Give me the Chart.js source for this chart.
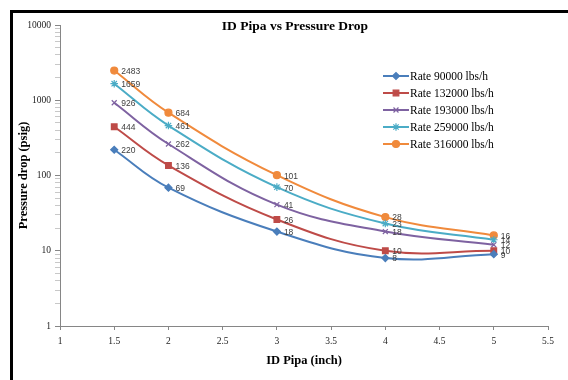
<!DOCTYPE html>
<html>
<head>
<meta charset="utf-8">
<script src="https://cdn.jsdelivr.net/npm/chart.js@4/dist/chart.umd.min.js"></script>
<style>
  html, body { margin: 0; padding: 0; background: #fff; }
  #chart { display: block; }
</style>
</head>
<body>
<canvas id="chart" width="568" height="380"></canvas>
<script>
const pipeSizes = [1.5, 2, 3, 4, 5];
const xTicks = [1, 1.5, 2, 2.5, 3, 3.5, 4, 4.5, 5, 5.5];
const yMajorTicks = [1, 10, 100, 1000, 10000];

const seriesNames = ['Rate 90000 lbs/h', 'Rate 132000 lbs/h', 'Rate 193000 lbs/h', 'Rate 259000 lbs/h', 'Rate 316000 lbs/h'];
const rate90000 = [220, 69, 18, 8, 9];
const rate132000 = [444, 136, 26, 10, 10];
const rate193000 = [926, 262, 41, 18, 12];
const rate259000 = [1659, 461, 70, 23, 14];
const rate316000 = [2483, 684, 101, 28, 16];

const seriesValues = [rate90000, rate132000, rate193000, rate259000, rate316000];
const colors = ['#4a7ebb', '#be4b48', '#7e62a1', '#4bacc6', '#f08a3c'];
const markers = [
  { pointStyle: 'rectRot', radius: 3.5 },
  { pointStyle: 'rect', radius: 4 },
  { pointStyle: 'crossRot', radius: 3.5 },
  { pointStyle: 'star', radius: 3.8 },
  { pointStyle: 'circle', radius: 3.5 }
];

// log axis: 1..9 in every decade, labels only on the powers of ten
const yTicks = [];
for (let p = 1; p < 10000; p *= 10) {
  for (let m = 1; m < 10; m++) yTicks.push(m * p);
}
yTicks.push(10000);

const datasets = seriesValues.map((values, i) => ({
  label: seriesNames[i],
  data: values.map((v, j) => ({ x: pipeSizes[j], y: v })),
  borderColor: colors[i],
  backgroundColor: colors[i],
  borderWidth: 2,
  tension: 0.4,
  pointStyle: markers[i].pointStyle,
  pointRadius: markers[i].radius,
  pointBorderWidth: 1.2,
  pointBackgroundColor: colors[i],
  pointBorderColor: colors[i]
}));

// value labels, chart title, legend and the black frame
const extras = {
  id: 'extras',
  afterDatasetsDraw(chart) {
    const ctx = chart.ctx;
    ctx.save();
    ctx.font = '8.5px "Liberation Sans", Arial, sans-serif';
    ctx.fillStyle = '#404040';
    ctx.textAlign = 'left';
    ctx.textBaseline = 'middle';
    chart.data.datasets.forEach((ds, i) => {
      chart.getDatasetMeta(i).data.forEach((pt, j) => {
        ctx.fillText(String(seriesValues[i][j]), pt.x + 7, pt.y + 1);
      });
    });
    ctx.restore();
  },
  afterDraw(chart) {
    const ctx = chart.ctx;
    ctx.save();
    ctx.font = 'bold 13.5px "Liberation Serif", "Times New Roman", serif';
    ctx.fillStyle = '#000';
    ctx.textAlign = 'center';
    ctx.textBaseline = 'middle';
    ctx.fillText('ID Pipa vs Pressure Drop', 295, 27);

    ctx.font = '11.5px "Liberation Serif", "Times New Roman", serif';
    ctx.textAlign = 'left';
    seriesNames.forEach((name, i) => {
      const y = 76 + i * 17;
      ctx.strokeStyle = colors[i];
      ctx.lineWidth = 2;
      ctx.beginPath();
      ctx.moveTo(383, y);
      ctx.lineTo(409, y);
      ctx.stroke();
      ctx.lineWidth = 1.2;
      ctx.fillStyle = colors[i];
      Chart.helpers.drawPoint(ctx, {
        pointStyle: markers[i].pointStyle,
        radius: markers[i].radius,
        borderWidth: 1.2
      }, 396, y);
      ctx.fillStyle = '#000';
      ctx.fillText(name, 410, y + 1);
    });

    ctx.strokeStyle = '#000';
    ctx.lineWidth = 3;
    ctx.beginPath();
    ctx.moveTo(11.5, 380);
    ctx.lineTo(11.5, 11.5);
    ctx.lineTo(568, 11.5);
    ctx.stroke();
    ctx.restore();
  }
};

const tickFont = { family: '"Liberation Serif", "Times New Roman", serif', size: 9.5 };
const titleFont = { family: '"Liberation Serif", "Times New Roman", serif', size: 12.5, weight: 'bold' };

new Chart(document.getElementById('chart'), {
  type: 'line',
  data: { datasets },
  plugins: [extras],
  options: {
    responsive: false,
    animation: false,
    layout: { padding: { left: 10, right: 20, top: 25, bottom: 0 } },
    plugins: { legend: { display: false }, tooltip: { enabled: false }, title: { display: false } },
    scales: {
      x: {
        type: 'linear',
        min: 1,
        max: 5.5,
        afterBuildTicks: (scale) => { scale.ticks = xTicks.map((v) => ({ value: v })); },
        afterFit: (scale) => { scale.height = 54; },
        border: { color: '#868686' },
        grid: { drawOnChartArea: false, color: '#868686', tickLength: 4 },
        ticks: {
          font: tickFont,
          color: '#222',
          padding: 6,
          autoSkip: false,
          maxRotation: 0,
          callback: (v) => String(v)
        },
        title: { display: true, text: 'ID Pipa (inch)', font: titleFont, color: '#000', padding: { top: 4, bottom: 12 } }
      },
      y: {
        type: 'logarithmic',
        min: 1,
        max: 10000,
        afterBuildTicks: (scale) => { scale.ticks = yTicks.map((v) => ({ value: v, major: yMajorTicks.includes(v) })); },
        afterFit: (scale) => { scale.width = 50; },
        border: { color: '#868686' },
        grid: {
          drawOnChartArea: false,
          tickLength: 5,
          color: (c) => (c.tick && yMajorTicks.includes(c.tick.value) ? '#868686' : '#c8c8c8')
        },
        ticks: {
          font: tickFont,
          color: '#222',
          padding: 4,
          autoSkip: false,
          callback: (v) => (yMajorTicks.includes(v) ? String(v) : '')
        },
        title: { display: true, text: 'Pressure drop (psig)', font: titleFont, color: '#000', padding: { top: 6, bottom: 2 } }
      }
    }
  }
});
</script>
</body>
</html>
